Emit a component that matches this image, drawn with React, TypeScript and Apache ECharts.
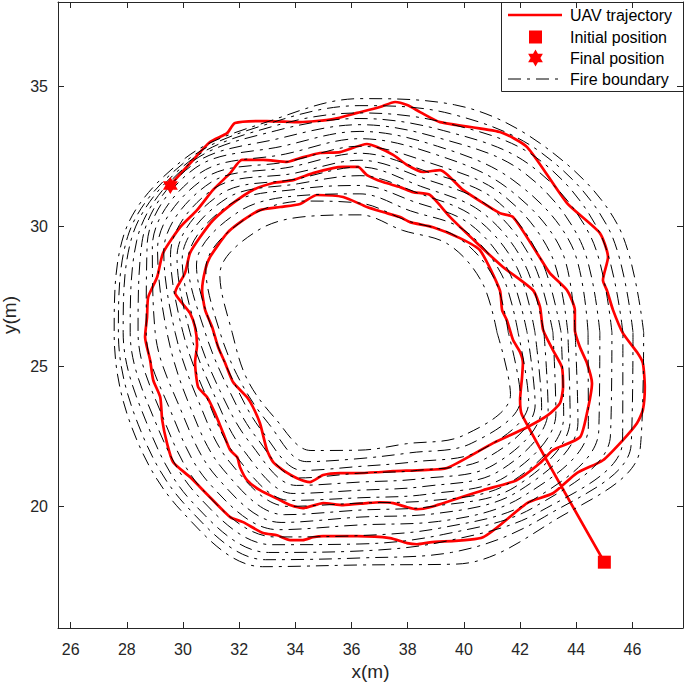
import React, { useEffect, useRef } from "react";
import * as echarts from "echarts";

// ---------- axes ----------
const X_RANGE = [25.55, 47.8];
const Y_RANGE = [15.65, 38];
const X_TICKS = [26, 28, 30, 32, 34, 36, 38, 40, 42, 44, 46];
const Y_TICKS = [20, 25, 30, 35];

// ---------- UAV trajectory ----------
const UAV_X = [
  45.0, 42.07, 42.0, 42.07, 42.1, 42.0, 41.75, 41.53, 41.36, 41.28, 40.57, 39.86, 38.9, 38.08, 37.73, 37.12, 36.55,
  35.7, 34.77, 34.17, 33.46, 32.74, 32.14, 31.57, 30.96, 30.79, 30.68, 30.79, 31.04, 31.25, 31.5, 31.78, 32.28,
  32.49, 32.74, 32.99, 33.21, 33.56, 34.06, 34.52, 34.99, 35.59, 36.2, 36.91, 37.48, 38.54, 39.4, 41.04, 42.25,
  42.99, 43.42, 43.53, 43.49, 43.17, 42.82, 42.71, 42.46, 41.39, 40.47, 39.51, 38.79, 38.19, 37.73, 37.12, 36.55,
  36.23, 35.7, 35.34, 34.63, 33.92, 33.21, 32.49, 31.78, 31.07, 30.61, 30.25, 30.07, 29.79, 29.72, 29.97, 30.25,
  30.43, 30.5, 30.43, 30.54, 30.86, 31.14, 31.43, 31.68, 31.93, 32.03, 32.28, 32.74, 33.46, 33.81, 34.27, 34.99,
  35.7, 36.55, 37.01, 37.48, 37.98, 38.33, 38.79, 40.68, 41.89, 42.71, 43.17, 44.13, 44.38, 44.56, 44.38, 44.13,
  43.95, 43.95, 43.67, 43.06, 42.6, 41.75, 41.28, 39.97, 39.15, 38.54, 37.98, 37.48, 36.91, 36.55, 35.59, 34.88,
  34.17, 33.7, 32.85, 32.1, 31.68, 31.07, 30.5, 29.9, 29.29, 29.08, 28.76, 28.72, 28.65, 28.83, 28.94, 29.19,
  29.26, 29.43, 29.65, 30.25, 30.96, 31.68, 32.14, 32.85, 33.35, 33.81, 34.27, 34.63, 34.99, 36.2, 37.37, 37.98,
  38.33, 38.79, 40.68, 42.25, 43.17, 44.02, 44.95, 45.66, 46.16, 46.37, 46.44, 46.37, 46.16, 45.66, 45.31, 45.09,
  44.95, 45.13, 44.84, 43.67, 42.25, 41.28, 39.15, 38.44, 37.98, 37.55, 37.01, 36.2, 35.34, 34.17, 32.99, 31.85,
  31.57, 30.96, 30.36, 29.54,
];
const UAV_Y = [
  18.0, 23.25, 23.79, 24.61, 25.11, 25.5, 25.93, 26.64, 27.0, 27.71, 29.14, 29.57, 29.96, 30.14, 30.32, 30.5, 30.68,
  31.04, 31.11, 30.79, 30.68, 30.57, 30.21, 29.75, 28.89, 28.43, 27.71, 27.0, 26.39, 25.68, 25.11, 24.43, 23.89,
  23.54, 22.96, 22.0, 21.57, 21.29, 21.0, 20.86, 21.11, 21.18, 21.18, 21.21, 21.25, 21.29, 21.36, 22.25, 22.82,
  23.25, 23.68, 24.25, 24.96, 25.57, 26.29, 27.11, 27.71, 28.54, 29.39, 30.32, 31.11, 31.21, 31.39, 31.57, 31.82,
  32.11, 32.11, 32.07, 31.89, 31.64, 31.54, 31.29, 30.82, 30.21, 29.61, 29.04, 28.32, 27.82, 27.61, 27.25, 26.89,
  26.39, 25.75, 25.14, 24.25, 23.89, 23.32, 22.61, 22.0, 21.75, 21.39, 20.93, 20.57, 20.21, 20.04, 19.93, 20.11,
  20.04, 20.11, 20.14, 20.11, 19.96, 19.89, 19.96, 20.57, 20.93, 21.54, 22.0, 22.46, 23.32, 24.39, 25.11, 25.68,
  26.29, 27.0, 27.71, 28.32, 29.04, 30.32, 30.46, 31.29, 32.0, 31.93, 32.18, 32.54, 32.82, 32.93, 32.64, 32.61,
  32.43, 32.29, 32.36, 32.36, 31.89, 31.29, 30.57, 29.96, 29.04, 28.18, 27.46, 26.75, 26.04, 25.21, 24.5, 23.89,
  23.07, 22.25, 21.57, 21.04, 20.32, 19.61, 19.43, 19.04, 18.96, 18.79, 18.79, 18.89, 18.93, 18.93, 18.86, 18.68,
  18.64, 18.71, 18.89, 20.11, 20.46, 21.18, 21.64, 22.36, 22.96, 23.43, 24.25, 25.11, 25.5, 26.18, 27.0, 27.71,
  28.07, 28.89, 29.75, 30.82, 32.82, 33.36, 33.71, 34.07, 34.32, 34.43, 34.25, 34.04, 33.82, 33.71, 33.75, 33.68,
  33.32, 33.0, 32.36, 31.46,
];
const INITIAL_POSITION = [45.0, 18.0];
const FINAL_POSITION = [29.55, 31.45];

// ---------- fire boundaries: radius (m) of each ring, read along 16 directions from a centre ----------
const FIRE_CENTER = [36.3, 26.2];
const FIRE_DIRECTIONS_DEG = [0, 22.5, 45, 67.5, 90, 112.5, 135, 157.5, 180, 202.5, 225, 247.5, 270, 292.5, 315, 337.5];
const FIRE_RINGS = [
  [4.88, 4.7, 4.45, 3.95, 4.2, 4.5, 5.15, 5.4, 4.55, 4.35, 4.3, 4.56, 4.2, 4.3, 5.2, 5.8],
  [5.28, 5.15, 4.85, 4.33, 4.62, 5.08, 5.75, 5.94, 4.98, 4.6, 4.6, 4.99, 4.5, 4.65, 5.6, 6.19],
  [5.63, 5.45, 5.2, 4.7, 4.95, 5.3, 6.1, 6.3, 5.23, 4.82, 4.95, 5.33, 4.78, 5.0, 5.99, 6.5],
  [5.95, 5.73, 5.5, 5.05, 5.25, 5.55, 6.5, 6.63, 5.51, 5.1, 5.25, 5.62, 5.02, 5.33, 6.35, 6.75],
  [6.23, 6.05, 5.8, 5.39, 5.6, 5.75, 6.75, 6.85, 5.8, 5.4, 5.55, 5.91, 5.34, 5.65, 6.7, 7.0],
  [6.55, 6.35, 6.1, 5.65, 5.91, 5.93, 7.0, 7.05, 6.05, 5.65, 5.9, 6.22, 5.63, 5.95, 7.0, 7.25],
  [6.87, 6.65, 6.42, 5.95, 6.15, 6.15, 7.3, 7.3, 6.3, 5.93, 6.24, 6.49, 5.9, 6.25, 7.3, 7.55],
  [7.16, 6.95, 6.75, 6.22, 6.4, 6.4, 7.55, 7.56, 6.58, 6.25, 6.55, 6.72, 6.09, 6.5, 7.57, 7.85],
  [7.4, 7.35, 7.05, 6.55, 6.65, 6.61, 7.8, 7.8, 6.87, 6.6, 6.9, 7.04, 6.34, 6.72, 7.8, 8.1],
  [7.66, 7.75, 7.35, 6.9, 6.92, 6.9, 8.05, 8.0, 7.29, 6.95, 7.25, 7.34, 6.59, 7.0, 8.0, 8.4],
  [8.12, 8.15, 7.7, 7.2, 7.18, 7.2, 8.3, 8.2, 7.61, 7.3, 7.6, 7.62, 6.87, 7.3, 8.25, 8.8],
  [8.54, 8.5, 8.15, 7.5, 7.42, 7.5, 8.45, 8.4, 7.9, 7.64, 7.93, 7.9, 7.25, 7.55, 8.55, 9.2],
  [8.97, 8.9, 8.5, 7.8, 7.64, 7.8, 8.55, 8.6, 8.18, 7.95, 8.2, 8.2, 7.55, 7.8, 8.8, 9.65],
  [9.36, 9.25, 8.85, 8.09, 7.84, 7.98, 8.62, 8.8, 8.43, 8.25, 8.5, 8.5, 7.8, 8.06, 9.05, 10.12],
  [9.72, 9.6, 9.1, 8.45, 8.1, 8.12, 8.7, 8.95, 8.6, 8.55, 8.75, 8.78, 8.05, 8.5, 9.3, 10.45],
  [10.1, 9.95, 9.35, 8.8, 8.35, 8.2, 8.8, 9.1, 8.75, 8.8, 9.0, 9.05, 8.3, 8.95, 9.6, 10.8],
];

const LEGEND_LABELS = ["UAV trajectory", "Initial position", "Final position", "Fire boundary"];

// ---------- styles ----------
const FONT = "'Liberation Sans', Arial, Helvetica, sans-serif";
const AXIS_COLOR = "#262626";
const RED = "#ff0000";
const DASH_DOT = [13, 6, 3, 6];
const HEXAGRAM = [
  [0, -1], [0.289, -0.5], [0.866, -0.5], [0.577, 0], [0.866, 0.5], [0.289, 0.5],
  [0, 1], [-0.289, 0.5], [-0.866, 0.5], [-0.577, 0], [-0.866, -0.5], [-0.289, -0.5],
];
const HEX_PATH =
  "path://" + HEXAGRAM.map((p, i) => (i === 0 ? "M" : "L") + (p[0] * 100).toFixed(1) + "," + (p[1] * 100).toFixed(1)).join("") + "Z";

function ringPoints(radii: number[]) {
  const pts = radii.map((r, i) => {
    const a = (FIRE_DIRECTIONS_DEG[i] * Math.PI) / 180;
    return [FIRE_CENTER[0] + r * Math.cos(a), FIRE_CENTER[1] + r * Math.sin(a)];
  });
  pts.push(pts[0]);
  return pts;
}

export default function App() {
  const ref = useRef<HTMLDivElement>(null);
  useEffect(() => {
    if (!ref.current) return;
    const chart = echarts.init(ref.current, null, { renderer: "svg" });

    const ringSeries = FIRE_RINGS.map((radii, k) => ({
      type: "line",
      name: "Fire boundary " + k,
      data: ringPoints(radii),
      smooth: 0.35,
      symbol: "none",
      silent: true,
      z: 3,
      lineStyle: { color: "#000", width: 1, type: DASH_DOT },
    }));

    const trajectory = UAV_X.map((x, i) => [x, UAV_Y[i]]);

    const axisCommon = {
      type: "value",
      axisLine: { show: true, onZero: false, lineStyle: { color: AXIS_COLOR, width: 1 } },
      splitLine: { show: false },
    };

    const legendX = 501;
    const legendRows = [15, 37, 58, 79];
    const hexLegend = HEXAGRAM.map((p) => [535.5 + p[0] * 8.5, legendRows[2] + p[1] * 8.5]);

    chart.setOption({
      animation: false,
      backgroundColor: "#fff",
      grid: { left: 58, right: 2, top: 2, bottom: 57, containLabel: false, outerBoundsMode: "none" },
      xAxis: [
        {
          ...axisCommon,
          position: "bottom",
          min: X_RANGE[0],
          max: X_RANGE[1],
          axisTick: { show: true, inside: true, length: 6, customValues: X_TICKS, lineStyle: { color: AXIS_COLOR } },
          axisLabel: { show: true, customValues: X_TICKS, fontSize: 16, color: AXIS_COLOR, fontFamily: FONT, margin: 13 },
          name: "x(m)",
          nameLocation: "middle",
          nameGap: 30,
          nameTextStyle: { fontSize: 19, color: AXIS_COLOR, fontFamily: FONT },
        },
        {
          ...axisCommon,
          position: "top",
          min: X_RANGE[0],
          max: X_RANGE[1],
          axisTick: { show: true, inside: true, length: 6, customValues: X_TICKS, lineStyle: { color: AXIS_COLOR } },
          axisLabel: { show: false },
        },
      ],
      yAxis: [
        {
          ...axisCommon,
          position: "left",
          min: Y_RANGE[0],
          max: Y_RANGE[1],
          axisTick: { show: true, inside: true, length: 6, customValues: Y_TICKS, lineStyle: { color: AXIS_COLOR } },
          axisLabel: { show: true, customValues: Y_TICKS, fontSize: 16, color: AXIS_COLOR, fontFamily: FONT, margin: 10 },
          name: "y(m)",
          nameLocation: "middle",
          nameGap: 34,
          nameTextStyle: { fontSize: 19, color: AXIS_COLOR, fontFamily: FONT },
        },
        {
          ...axisCommon,
          position: "right",
          min: Y_RANGE[0],
          max: Y_RANGE[1],
          axisTick: { show: true, inside: true, length: 6, customValues: Y_TICKS, lineStyle: { color: AXIS_COLOR } },
          axisLabel: { show: false },
        },
      ],
      series: [
        {
          type: "line",
          name: LEGEND_LABELS[0],
          data: trajectory,
          symbol: "none",
          smooth: 0.2,
          silent: true,
          z: 2,
          lineStyle: { color: RED, width: 2.7, join: "round" },
        },
        ...ringSeries,
        {
          type: "scatter",
          name: LEGEND_LABELS[1],
          data: [INITIAL_POSITION],
          symbol: "rect",
          symbolSize: 13,
          itemStyle: { color: RED, opacity: 1 },
          z: 6,
        },
        {
          type: "scatter",
          name: LEGEND_LABELS[2],
          data: [FINAL_POSITION],
          symbol: HEX_PATH,
          symbolSize: [15, 17],
          itemStyle: { color: RED, opacity: 1 },
          z: 6,
        },
      ],
      graphic: [
        {
          type: "group",
          z: 100,
          children: [
            {
              type: "rect",
              shape: { x: legendX + 0.5, y: 2.5, width: 182, height: 89 },
              style: { fill: "#fff", stroke: AXIS_COLOR, lineWidth: 1 },
            },
            {
              type: "line",
              shape: { x1: 508, y1: legendRows[0], x2: 562, y2: legendRows[0] },
              style: { stroke: RED, lineWidth: 2.7 },
            },
            {
              type: "rect",
              shape: { x: 529, y: legendRows[1] - 6.5, width: 13, height: 13 },
              style: { fill: RED },
            },
            {
              type: "polygon",
              shape: { points: hexLegend },
              style: { fill: RED },
            },
            {
              type: "line",
              shape: { x1: 508, y1: legendRows[3], x2: 562, y2: legendRows[3] },
              style: { stroke: "#000", lineWidth: 1, lineDash: DASH_DOT },
            },
            ...LEGEND_LABELS.map((label, i) => ({
              type: "text",
              x: 570,
              y: legendRows[i],
              style: { text: label, fontSize: 16, fontFamily: FONT, fill: "#000", verticalAlign: "middle" },
            })),
          ],
        },
      ],
    });

    return () => chart.dispose();
  }, []);

  return <div ref={ref} style={{ position: "fixed", left: 0, top: 0, width: 685, height: 685 }} />;
}
